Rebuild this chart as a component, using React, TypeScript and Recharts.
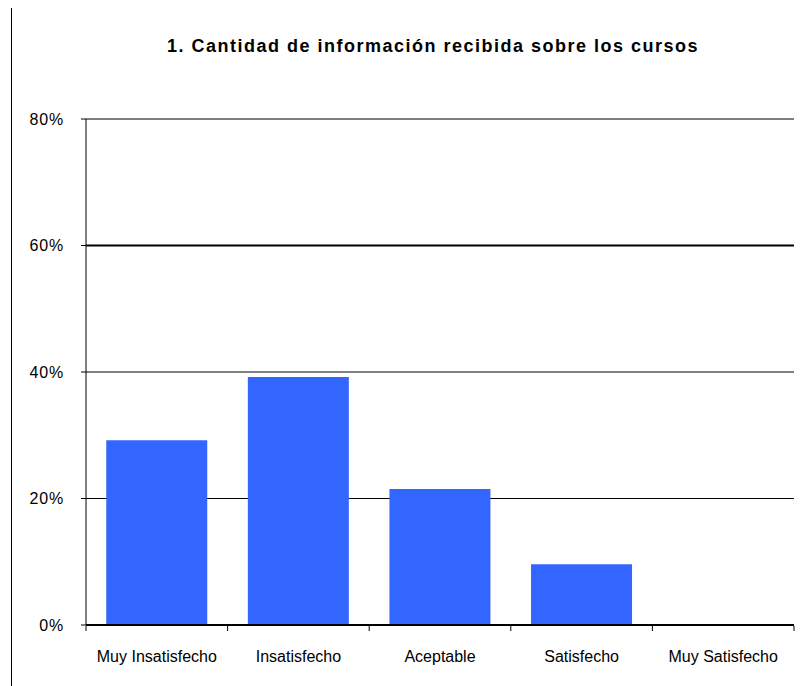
import React from "react";
import { BarChart, Bar, XAxis, YAxis, CartesianGrid, ReferenceLine } from "recharts";

const categories = ["Muy Insatisfecho", "Insatisfecho", "Aceptable", "Satisfecho", "Muy Satisfecho"];
const values = [29.2, 39.2, 21.5, 9.6, 0];
const yTicks = [0, 20, 40, 60, 80];

const data = categories.map((name, i) => ({ name, value: values[i] }));

const FONT = "'Liberation Sans', Arial, sans-serif";

// category label in the middle, tick marks on the band edges
const EdgeTick = (props: any) => {
  const { x, y, payload, index } = props;
  const off = payload.offset || 0;
  const axisY = y - 7;
  return (
    <g>
      <line x1={x - off} y1={axisY} x2={x - off} y2={axisY + 5} stroke="#000" />
      {index === categories.length - 1 && (
        <line x1={x + off} y1={axisY} x2={x + off} y2={axisY + 5} stroke="#000" />
      )}
      <text x={x} y={y + 29} textAnchor="middle" fontSize={16} fontFamily={FONT} fill="#000">
        {payload.value}
      </text>
    </g>
  );
};

const App = () => {
  return (
    <div style={{ position: "absolute", left: 0, top: 0, width: 809, height: 686, background: "#fff" }}>
      <div
        style={{
          position: "absolute",
          left: 11,
          top: 8,
          width: 0,
          height: 678,
          borderLeft: "1px solid #000",
        }}
      />
      <div
        style={{
          position: "absolute",
          left: 0,
          width: 866,
          top: 36,
          textAlign: "center",
          fontFamily: FONT,
          fontWeight: "bold",
          fontSize: 18,
          letterSpacing: 1.5,
        }}
      >
        1. Cantidad de información recibida sobre los cursos
      </div>
      <BarChart
        width={809}
        height={686}
        data={data}
        margin={{ top: 119, right: 15, bottom: 0, left: 0 }}
        barCategoryGap="14.3%"
      >
        <CartesianGrid vertical={false} stroke="#000" strokeOpacity={1} />
        <ReferenceLine y={60} stroke="#000" strokeWidth={2} />
        <XAxis
          dataKey="name"
          interval={0}
          tickLine={false}
          axisLine={{ stroke: "#000", strokeWidth: 2 }}
          tick={<EdgeTick />}
          height={61}
        />
        <YAxis
          domain={[0, 80]}
          ticks={yTicks}
          width={86}
          tickFormatter={(v: number) => `${v}%`}
          axisLine={{ stroke: "#000" }}
          tickLine={{ stroke: "#000" }}
          tickSize={5}
          tickMargin={17}
          tick={{ fill: "#000", fontSize: 16, fontFamily: FONT, letterSpacing: 0.8 }}
        />
        <Bar dataKey="value" fill="#3366FF" isAnimationActive={false} />
      </BarChart>
    </div>
  );
};

export default App;
